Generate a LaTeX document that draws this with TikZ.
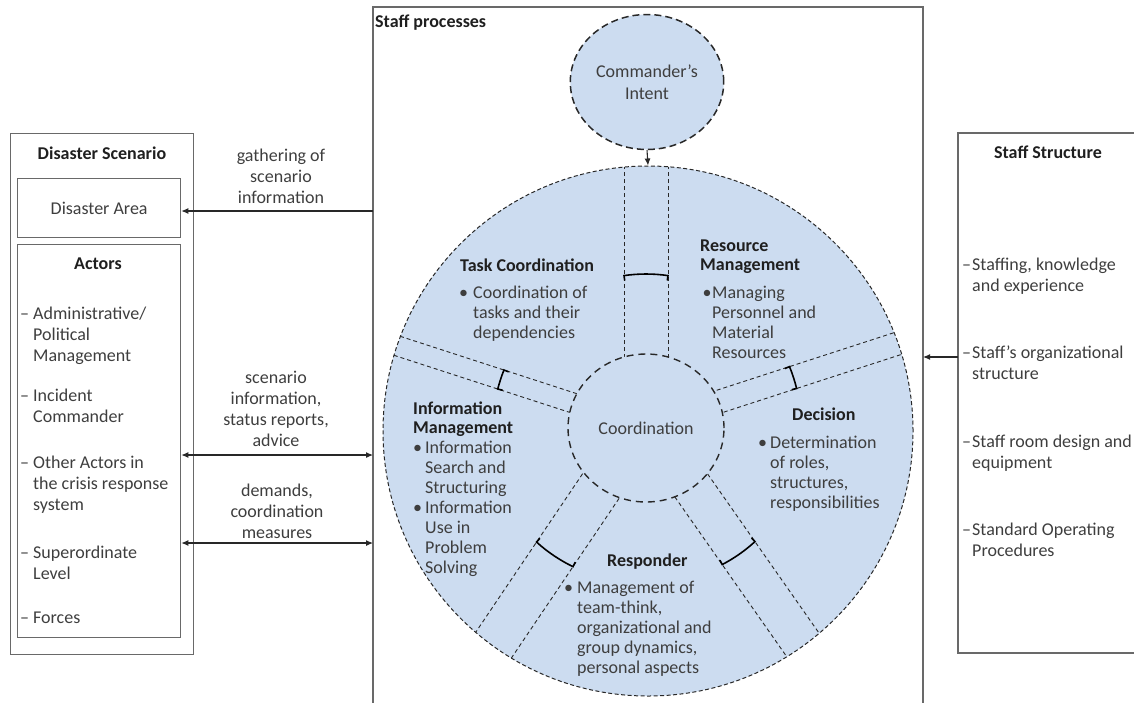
\documentclass[tikz,border=0pt]{standalone}
\usepackage{fontspec}
\setmainfont{Carlito}
\usetikzlibrary{shapes.geometric,arrows.meta,calc}
\definecolor{cfill}{RGB}{204,220,240}
\definecolor{txtc}{RGB}{62,62,62}
\definecolor{boxc}{RGB}{105,105,105}
\definecolor{linec}{RGB}{40,40,40}
\newcommand{\Lblock}[1]{\begin{tabular}[t]{@{}l@{}}#1\end{tabular}}
\newcommand{\Cblock}[1]{\begin{tabular}[t]{@{}c@{}}#1\end{tabular}}
\newcommand{\bul}[1]{\llap{\textbullet\hspace{#1}}}
\newcommand{\dsh}[1]{\llap{–\hspace{#1}}}
\newcommand{\spokepair}[4]{%
  \draw[spokeln] ($(#1,#2)+({#3+90}:#4)$) -- ++(#3:330);
  \draw[spokeln] ($(#1,#2)+({#3-90}:#4)$) -- ++(#3:330);}
\newcommand{\bracketarc}[4]{%
  \pgfmathsetmacro{\brkang}{asin(#4/154)}%
  \draw[brk] ($(#1,#2)+({#3-\brkang}:149)$) -- ($(#1,#2)+({#3-\brkang}:154)$)
     arc[start angle={#3-\brkang}, end angle={#3+\brkang}, radius=154pt]
     -- ($(#1,#2)+({#3+\brkang}:149)$);}
\tikzset{
  txtst/.style={font=\fontsize{18pt}{21pt}\selectfont, text=txtc, inner sep=0pt},
  circtxt/.style={font=\fontsize{18pt}{20pt}\selectfont, text=txtc, inner sep=0pt},
  head/.style={font=\fontsize{18pt}{19pt}\selectfont\bfseries, text=black!88, inner sep=0pt},
  boxline/.style={draw=boxc, line width=1.3pt},
  arr/.style={draw=linec, line width=1.1pt, -{Latex[length=7pt,width=6pt]}},
  darr/.style={draw=linec, line width=1.1pt, {Latex[length=7pt,width=6pt]}-{Latex[length=7pt,width=6pt]}},
  spokeln/.style={draw=linec, line width=0.9pt, dash pattern=on 4pt off 3pt},
  brk/.style={draw=black, line width=1.6pt},
}
\begin{document}
\begin{tikzpicture}[x=1pt,y=1pt]
\useasboundingbox (0,0) rectangle (1134,-702);

% ---------- Staff processes frame ----------
\draw[boxline] (373,-712) -- (373,-7) -- (923,-7) -- (923,-712);
\node[head, anchor=base west] (sptitle) at (375,-27) {Staff processes};
\coordinate (spG) at (373,-211);
\coordinate (spA) at (373,-455);
\coordinate (spB) at (373,-543);
\coordinate (spR) at (923,-357);

% ---------- Disaster Scenario ----------
\node[boxline, minimum width=183pt, minimum height=521pt, anchor=north west, inner sep=0pt] (ds) at (10,-133) {};
\node[head, anchor=base] (dstitle) at (102,-159) {Disaster Scenario};
\node[boxline, txtst, minimum width=163pt, minimum height=59pt, anchor=north west] (area) at (17,-178) {Disaster Area};
\node[boxline, minimum width=163pt, minimum height=393pt, anchor=north west, inner sep=0pt] (actors) at (17,-244) {};
\node[head, anchor=base] (actt) at (98,-269) {Actors};
\node[txtst, anchor=base west] (a1) at (33,-319) {\Lblock{\dsh{4pt}Administrative/\\Political\\Management}};
\node[txtst, anchor=base west] (a2) at (33,-401) {\Lblock{\dsh{4pt}Incident\\Commander}};
\node[txtst, anchor=base west] (a3) at (33,-468) {\Lblock{\dsh{4pt}Other Actors in\\the crisis response\\system}};
\node[txtst, anchor=base west] (a4) at (33,-558) {\Lblock{\dsh{4pt}Superordinate\\Level}};
\node[txtst, anchor=base west] (a5) at (33,-623) {\Lblock{\dsh{4pt}Forces}};

% ---------- arrows left ----------
\draw[arr] (spG) -- (area.east |- spG);
\draw[darr] (actors.east |- spA) -- (spA);
\draw[darr] (actors.east |- spB) -- (spB);
\node[txtst, anchor=base] (l1) at (281,-161) {\Cblock{gathering of\\scenario\\information}};
\node[txtst, anchor=base] (l2) at (276,-383) {\Cblock{scenario\\information,\\status reports,\\advice}};
\node[txtst, anchor=base] (l3) at (277,-496) {\Cblock{demands,\\coordination\\measures}};

% ---------- Staff Structure ----------
\draw[boxline] (1140,-133) -- (958,-133) -- (958,-653) -- (1140,-653);
\coordinate (ssA) at (958,-357);
\node[head, anchor=base] (sstitle) at (1048,-158) {Staff Structure};
\node[txtst, anchor=base west] (s1) at (972,-270) {\Lblock{\dsh{1pt}Staffing, knowledge\\and experience}};
\node[txtst, anchor=base west] (s2) at (972,-358) {\Lblock{\dsh{1pt}Staff’s organizational\\structure}};
\node[txtst, anchor=base west] (s3) at (972,-447) {\Lblock{\dsh{1pt}Staff room design and\\equipment}};
\node[txtst, anchor=base west] (s4) at (972,-535) {\Lblock{\dsh{1pt}Standard Operating\\Procedures}};
\draw[arr] (ssA) -- (spR);

% ---------- circles ----------
\node[ellipse, minimum width=149pt, minimum height=135pt, fill=cfill, draw=linec, line width=1.5pt,
      dash pattern=on 7pt off 4pt, align=center, font=\fontsize{18pt}{22pt}\selectfont, text=txtc] (ci) at (647,-82) {Commander’s\\Intent};
\node[circle, minimum size=530pt, inner sep=0pt, fill=cfill, draw=linec, line width=1pt,
      dash pattern=on 4pt off 2.5pt] (outer) at (648,-431) {};
\draw[arr] (ci.south) -- (outer.north);

\begin{scope}
  \clip (648,-431) circle[radius=265pt];
  \spokepair{646}{-428}{90}{22}
  \spokepair{647}{-427}{162}{10}
  \spokepair{647}{-425}{18}{11.5}
  \spokepair{640}{-428}{236}{22}
  \spokepair{651}{-428}{305}{20}
\end{scope}

\node[ellipse, minimum width=156pt, minimum height=148pt, fill=cfill, draw=linec, line width=1.4pt,
      dash pattern=on 7pt off 5pt, circtxt] (coord) at (646,-428) {Coordination};

\bracketarc{646}{-428}{90}{22}
\bracketarc{647}{-427}{162}{10}
\bracketarc{647}{-425}{18}{11.5}
\bracketarc{640}{-428}{236}{22}
\bracketarc{651}{-428}{305}{20}

% ---------- sector texts ----------
\node[head, anchor=base west] (tch) at (460,-271) {Task Coordination};
\node[circtxt, anchor=base west] (tcb) at (473,-298) {\Lblock{\bul{5pt}Coordination of\\tasks and their\\dependencies}};

\node[head, anchor=base west] (rmh) at (700,-251) {\Lblock{Resource\\Management}};
\node[circtxt, anchor=base west] (rmb) at (712,-298) {\Lblock{\bul{0.5pt}Managing\\Personnel and\\Material\\Resources}};

\node[head, anchor=base west] (imh) at (413,-414) {\Lblock{Information\\Management}};
\node[circtxt, anchor=base west] (imb) at (425,-453) {\Lblock{\bul{3pt}Information\\Search and\\Structuring\\\bul{3pt}Information\\Use in\\Problem\\Solving}};

\node[head, anchor=base west] (dh) at (792,-420) {Decision};
\node[circtxt, anchor=base west] (db) at (770,-448) {\Lblock{\bul{3pt}Determination\\of roles,\\structures,\\responsibilities}};

\node[head, anchor=base west] (rh) at (607,-566) {Responder};
\node[circtxt, anchor=base west] (rb) at (577,-593) {\Lblock{\bul{4pt}Management of\\team-think,\\organizational and\\group dynamics,\\personal aspects}};
\end{tikzpicture}
\end{document}
